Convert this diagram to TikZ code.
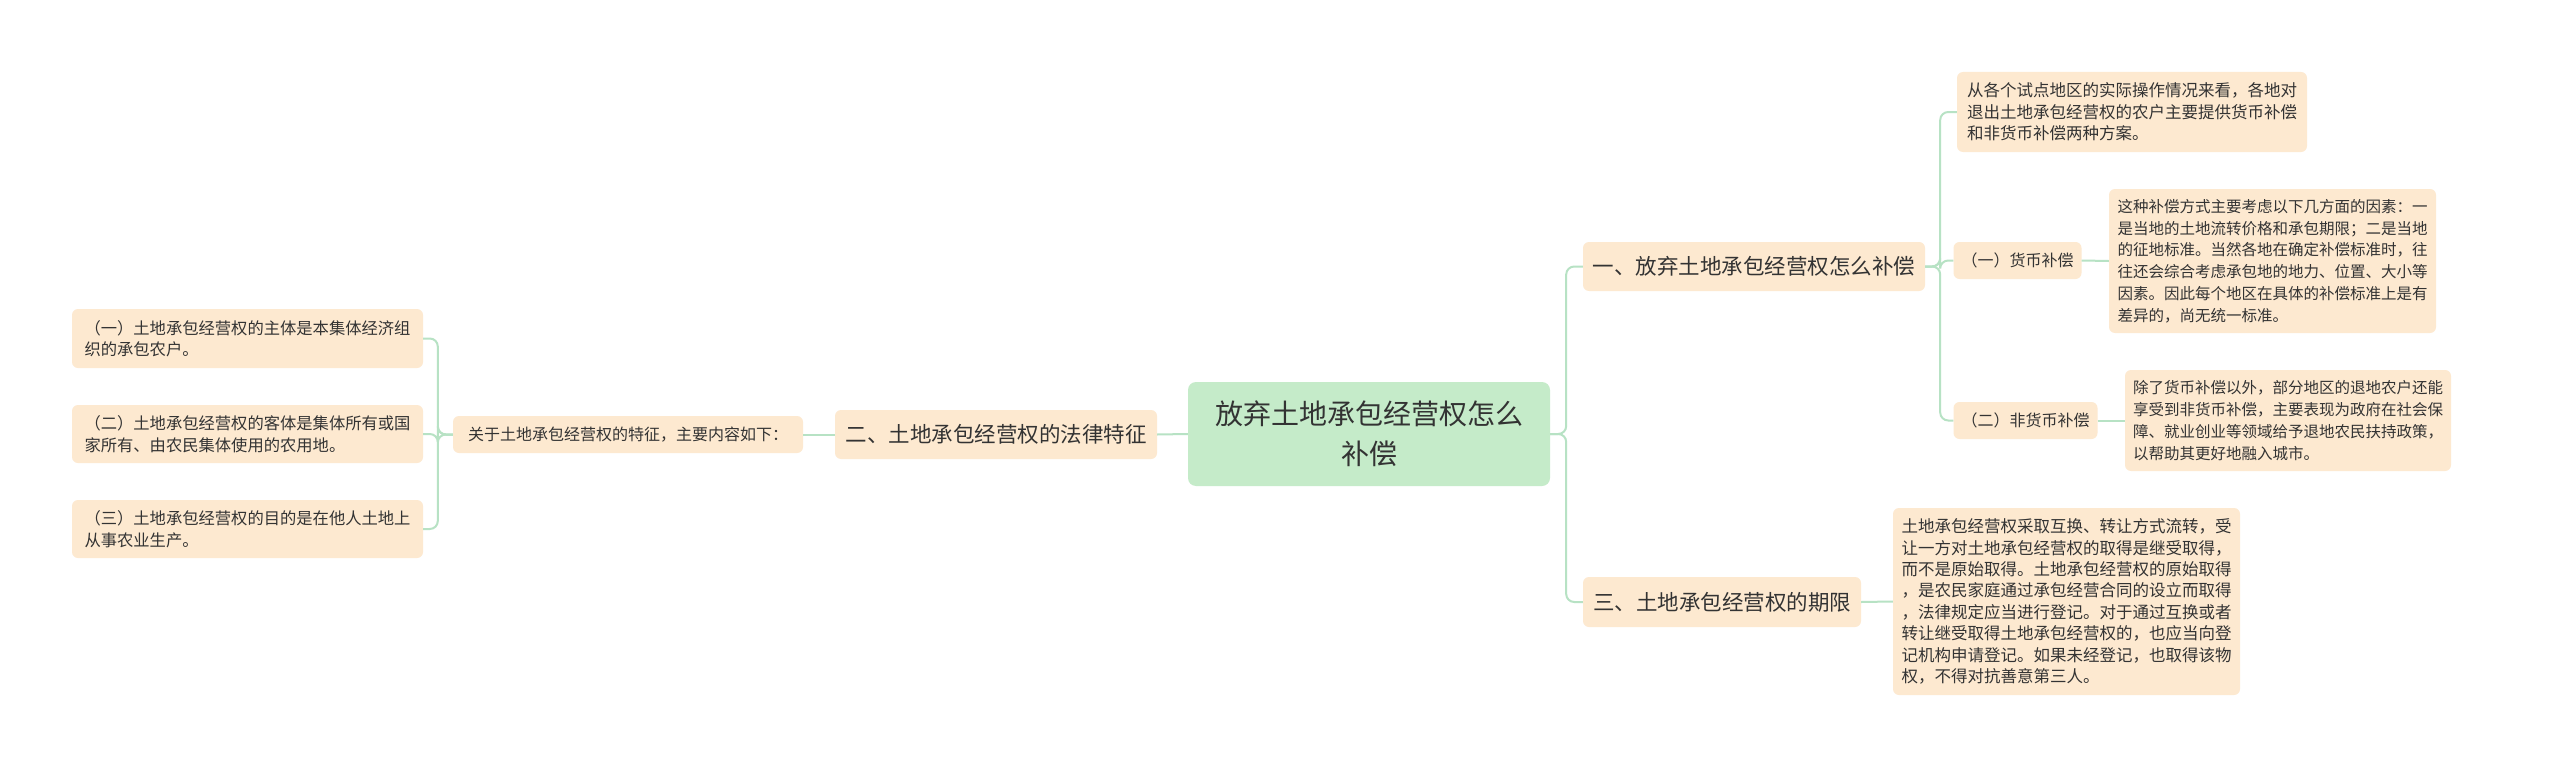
\documentclass[tikz,border=0pt]{standalone}
\usepackage{fontspec}
\setmainfont{Noto Sans CJK SC}
\usetikzlibrary{calc}
\definecolor{peach}{HTML}{FDE9D0}
\definecolor{rootgreen}{HTML}{C5EBC9}
\definecolor{linegreen}{HTML}{B7E2C4}
\definecolor{ink}{HTML}{333333}
\newcommand{\myfs}[2]{\fontsize{#1}{#2}\selectfont}
\begin{document}
\begin{tikzpicture}[x=1pt,y=-1pt,
  box/.style={fill=peach, rounded corners=6pt, text=ink, inner xsep=8pt, inner ysep=4pt},
  rootbox/.style={fill=rootgreen, rounded corners=8pt, text=ink, align=center, font=\myfs{28}{40}},
  topic/.style={box, font=\myfs{21.5}{26}},
  label/.style={box, font=\myfs{16}{20}},
  leaf/.style={box, align=left},
  conn/.style={draw=linegreen, line width=2pt, rounded corners=8pt}]
\useasboundingbox[fill=white] (0,0) rectangle (2560,768);

\node[rootbox, minimum width=362, minimum height=104] (root) at (1369,434) {放弃土地承包经营权怎么\\补偿};

\node[topic, minimum width=342, minimum height=49] (n1) at (1754,266.5) {一、放弃土地承包经营权怎么补偿};
\node[topic, minimum width=278, minimum height=50] (n3) at (1722,602) {三、土地承包经营权的期限};
\node[topic, minimum width=322, minimum height=49] (n2) at (996,434.5) {二、土地承包经营权的法律特征};

\node[label, minimum width=350, minimum height=37] (n2a) at (628,434.5) {关于土地承包经营权的特征，主要内容如下：};

\node[leaf, font=\myfs{16.3}{21.5}, minimum width=351, minimum height=59] (l1) at (247.5,338.5)
 {（一）土地承包经营权的主体是本集体经济组\\织的承包农户。};
\node[leaf, font=\myfs{16.3}{21.5}, minimum width=351, minimum height=58] (l2) at (247.5,434)
 {（二）土地承包经营权的客体是集体所有或国\\家所有、由农民集体使用的农用地。};
\node[leaf, font=\myfs{16.3}{21.5}, minimum width=351, minimum height=58] (l3) at (247.5,529)
 {（三）土地承包经营权的目的是在他人土地上\\从事农业生产。};

\node[leaf, font=\myfs{16.5}{21.5}, minimum width=350, minimum height=80] (n11) at (2132,112)
 {从各个试点地区的实际操作情况来看，各地对\\退出土地承包经营权的农户主要提供货币补偿\\和非货币补偿两种方案。};
\node[label, minimum width=123, minimum height=37] (n12) at (2017.5,260.5) {（一）货币补偿};
\node[leaf, font=\myfs{15.5}{21.8}, minimum width=327, minimum height=144] (n12a) at (2272.5,261)
 {这种补偿方式主要考虑以下几方面的因素：一\\是当地的土地流转价格和承包期限；二是当地\\的征地标准。当然各地在确定补偿标准时，往\\往还会综合考虑承包地的地力、位置、大小等\\因素。因此每个地区在具体的补偿标准上是有\\差异的，尚无统一标准。};
\node[label, minimum width=139, minimum height=37] (n13) at (2025.5,420.5) {（二）非货币补偿};
\node[leaf, font=\myfs{15.5}{21.8}, minimum width=326, minimum height=101] (n13a) at (2288,420.5)
 {除了货币补偿以外，部分地区的退地农户还能\\享受到非货币补偿，主要表现为政府在社会保\\障、就业创业等领域给予退地农民扶持政策，\\以帮助其更好地融入城市。};
\node[leaf, font=\myfs{16.5}{21.4}, minimum width=347, minimum height=187] (n3a) at (2066.5,601.5)
 {土地承包经营权采取互换、转让方式流转，受\\让一方对土地承包经营权的取得是继受取得，\\而不是原始取得。土地承包经营权的原始取得\\，是农民家庭通过承包经营合同的设立而取得\\，法律规定应当进行登记。对于通过互换或者\\转让继受取得土地承包经营权的，也应当向登\\记机构申请登记。如果未经登记，也取得该物\\权，不得对抗善意第三人。};

\begin{scope}[on background layer/.try]
\draw[conn] (root.east) -- ++(16,0) |- (n1.west);
\draw[conn] (root.east) -- ++(16,0) |- (n3.west);
\draw[conn] (root.west) -- (n2.east);
\draw[conn] (n2.west) -- (n2a.east);
\draw[conn] (n2a.west) -- ++(-15,0) |- (l1.east);
\draw[conn] (n2a.west) -- ++(-15,0) |- (l2.east);
\draw[conn] (n2a.west) -- ++(-15,0) |- (l3.east);
\draw[conn] (n1.east) -- ++(15,0) |- (n11.west);
\draw[conn] (n1.east) -- ++(15,0) |- (n12.west);
\draw[conn] (n1.east) -- ++(15,0) |- (n13.west);
\draw[conn] (n12.east) -- (n12a.west);
\draw[conn] (n13.east) -- (n13a.west);
\draw[conn] (n3.east) -- (n3a.west);
\end{scope}
\end{tikzpicture}
\end{document}
